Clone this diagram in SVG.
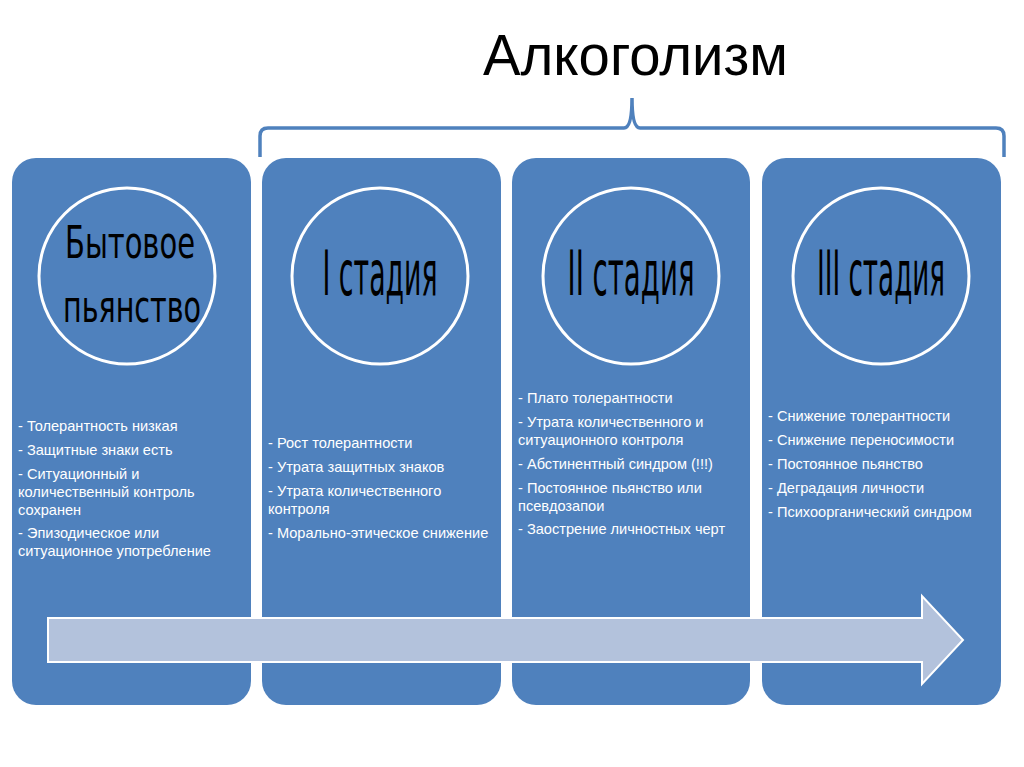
<svg xmlns="http://www.w3.org/2000/svg" width="1024" height="767" viewBox="0 0 1024 767">
<style>
.box{fill:#4F81BD;}
.circ{fill:#4F81BD;stroke:#FFFFFF;stroke-width:3;}
.ct{font-family:"Liberation Sans Narrow","DejaVu Sans Condensed","Liberation Sans",Arial,sans-serif;fill:#000;text-anchor:middle;}
.bt{font-family:"Liberation Sans",Arial,sans-serif;font-size:14.6px;fill:#FFFFFF;}
.title{font-family:"Liberation Sans",Arial,sans-serif;font-size:58px;fill:#000;}
</style>
<rect width="1024" height="767" fill="#FFFFFF"/>
<text class="title" x="483" y="75" textLength="305" lengthAdjust="spacingAndGlyphs">Алкоголизм</text>
<g id="brace">
<path d="M260,157 L260,136 Q260,128 268,128 L624,128 Q632,128 632,98 Q632,128 640,128 L996,128 Q1004,128 1004,136 L1004,157" fill="none" stroke="#4F81BD" stroke-width="3.5"/>
</g>
<g id="node-bytovoe">
<rect class="box" x="12" y="158" width="239" height="547" rx="24"/>
<circle class="circ" cx="127" cy="276" r="88"/>
<text class="ct" x="130" y="258" font-size="44" textLength="130" lengthAdjust="spacingAndGlyphs">Бытовое</text>
<text class="ct" x="132" y="322" font-size="44" textLength="138" lengthAdjust="spacingAndGlyphs">пьянство</text>
<text class="bt" x="18" y="431">- Толерантность низкая</text>
<text class="bt" x="18" y="455">- Защитные знаки есть</text>
<text class="bt" x="18" y="479">- Ситуационный и</text>
<text class="bt" x="18" y="497">количественный контроль</text>
<text class="bt" x="18" y="515">сохранен</text>
<text class="bt" x="18" y="538">- Эпизодическое или</text>
<text class="bt" x="18" y="556">ситуационное употребление</text>
</g>
<g id="node-stage1">
<rect class="box" x="262" y="158" width="239" height="547" rx="24"/>
<circle class="circ" cx="380" cy="276" r="88"/>
<text class="ct" x="380" y="295" font-size="62" textLength="115" lengthAdjust="spacingAndGlyphs">I стадия</text>
<text class="bt" x="268" y="448">- Рост толерантности</text>
<text class="bt" x="268" y="472">- Утрата защитных знаков</text>
<text class="bt" x="268" y="496">- Утрата количественного</text>
<text class="bt" x="268" y="514">контроля</text>
<text class="bt" x="268" y="538">- Морально-этическое снижение</text>
</g>
<g id="node-stage2">
<rect class="box" x="512" y="158" width="238" height="547" rx="24"/>
<circle class="circ" cx="631" cy="276" r="88"/>
<text class="ct" x="631" y="295" font-size="62" textLength="127" lengthAdjust="spacingAndGlyphs">II стадия</text>
<text class="bt" x="518" y="403">- Плато толерантности</text>
<text class="bt" x="518" y="427">- Утрата количественного и</text>
<text class="bt" x="518" y="445">ситуационного контроля</text>
<text class="bt" x="518" y="469">- Абстинентный синдром (!!!)</text>
<text class="bt" x="518" y="493">- Постоянное пьянство или</text>
<text class="bt" x="518" y="511">псевдозапои</text>
<text class="bt" x="518" y="534">- Заострение личностных черт</text>
</g>
<g id="node-stage3">
<rect class="box" x="762" y="158" width="239" height="547" rx="24"/>
<circle class="circ" cx="881" cy="276" r="88"/>
<text class="ct" x="881" y="295" font-size="62" textLength="128" lengthAdjust="spacingAndGlyphs">III стадия</text>
<text class="bt" x="768" y="421">- Снижение толерантности</text>
<text class="bt" x="768" y="445">- Снижение переносимости</text>
<text class="bt" x="768" y="469">- Постоянное пьянство</text>
<text class="bt" x="768" y="493">- Деградация личности</text>
<text class="bt" x="768" y="517">- Психоорганический синдром</text>
</g>
<g id="connectors">
<path d="M48,618 L922,618 L922,596 L963,640 L922,684 L922,662 L48,662 Z" fill="#B3C2DC" stroke="#FFFFFF" stroke-width="2"/>
</g>
</svg>
